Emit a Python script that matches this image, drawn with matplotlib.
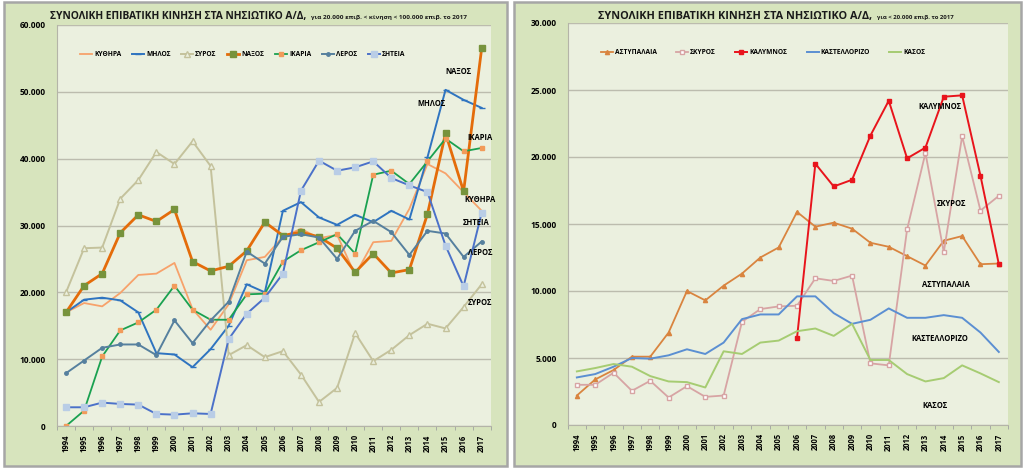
import matplotlib
matplotlib.use("Agg")
import matplotlib.pyplot as plt
from matplotlib.patches import Rectangle
from matplotlib.ticker import FuncFormatter, MultipleLocator
import numpy as np

plt.rcParams['font.family'] = ['Open Sans', 'DejaVu Sans']

years = list(range(1994, 2018))

# ---- left chart: 20.000 < traffic < 100.000 ----
kythira = [17000, 18400, 17900, 19900, 22600, 22800, 24400, 17500, 14400, 18200, 24800, 25300,
           28300, 29500, 28100, 28600, 22600, 27500, 27700, 32500, 39200, 37800, 35000, 32200]
milos = [17000, 18900, 19200, 18800, 17000, 10900, 10700, 8800, 11500, 15000, 21200, 20000,
         32200, 33500, 31200, 30100, 31600, 30500, 32200, 30900, 40200, 50300, 48800, 47600]
syros = [20000, 26600, 26700, 34000, 36800, 41000, 39200, 42600, 38900, 10600, 12100, 10300,
         11200, 7700, 3600, 5700, 13900, 9700, 11400, 13600, 15300, 14600, 17800, 21200]
naxos = [17000, 21000, 22800, 28900, 31600, 30600, 32400, 24600, 23200, 23900, 26200, 30500,
         28500, 29000, 28300, 26600, 23000, 25800, 22900, 23400, 31700, 43800, 35100, 56500]
ikaria = [0, 2300, 10400, 14300, 15500, 17400, 21000, 17400, 15900, 15900, 19700, 19800,
          24600, 26300, 27500, 28700, 25800, 37600, 38200, 36200, 39600, 43000, 41100, 41600]
leros = [7900, 9800, 11700, 12200, 12200, 10600, 15800, 12400, 15800, 18600, 26100, 24300,
         28300, 28700, 28200, 25000, 29200, 30700, 29000, 25600, 29200, 28800, 25300, 27600]
siteia = [2800, 2800, 3500, 3300, 3200, 1800, 1700, 1900, 1800, 13000, 16800, 19200,
          22800, 35200, 39700, 38200, 38700, 39600, 37100, 36000, 35000, 27000, 20900, 31900]

# ---- right chart: < 20.000 ----
astypalaia = [2200, 3400, 4100, 5100, 5100, 6900, 10000, 9300, 10400, 11300, 12500, 13250,
              15900, 14800, 15100, 14650, 13600, 13300, 12600, 11900, 13750, 14100, 12000, 12050]
skyros = [3000, 3000, 3900, 2550, 3300, 2050, 2900, 2100, 2200, 7700, 8650, 8850,
          8900, 10950, 10750, 11150, 4600, 4450, 14600, 20300, 12900, 21550, 16000, 17100]
kalymnos = [np.nan] * 12 + [6500, 19500, 17800, 18300, 21600, 24200, 19900, 20700, 24500, 24600, 18600, 12000]
kastellorizo = [3550, 3800, 4350, 5000, 4950, 5200, 5650, 5300, 6150, 7900, 8250, 8250,
                9600, 9600, 8350, 7550, 7850, 8700, 8000, 8000, 8200, 8000, 6900, 5450]
kasos = [4000, 4250, 4550, 4350, 3650, 3250, 3200, 2800, 5500, 5300, 6150, 6300,
         7000, 7200, 6650, 7550, 4850, 4850, 3800, 3250, 3500, 4450, 3850, 3200]

title_main = "ΣΥΝΟΛΙΚΗ ΕΠΙΒΑΤΙΚΗ ΚΙΝΗΣΗ ΣΤΑ ΝΗΣΙΩΤΙΚΟ Α/Δ,"
title_left_sub = "για 20.000 επιβ. < κίνηση < 100.000 επιβ. το 2017"
title_right_sub = "για < 20.000 επιβ. το 2017"

panel_bg = "#d7e4bd"
plot_bg = "#ebf0df"
W, H = 1024, 468

fig = plt.figure(figsize=(W / 100, H / 100), dpi=100)
fig.patch.set_facecolor("white")

# panel backgrounds
for x0, x1 in [(4, 507), (514, 1021)]:
    fig.patches.append(Rectangle((x0 / W, 1 - 466 / H), (x1 - x0) / W, 464 / H,
                                 transform=fig.transFigure, facecolor=panel_bg,
                                 edgecolor="#a6a6a6", linewidth=1.8, zorder=-1))

ax1 = fig.add_axes([57 / W, 1 - 426 / H, (490.7 - 57) / W, (426 - 25) / H])
ax2 = fig.add_axes([567.7 / W, 1 - 425 / H, (1008 - 567.7) / W, (425 - 23) / H])

fmt = FuncFormatter(lambda v, p: "{:,.0f}".format(v).replace(",", "."))


def style(ax, ymax, step):
    ax.set_facecolor(plot_bg)
    ax.set_xlim(1993.5, 2017.5)
    ax.set_ylim(0, ymax)
    ax.yaxis.set_major_locator(MultipleLocator(step))
    ax.yaxis.set_major_formatter(fmt)
    ax.set_xticks(years)
    ax.set_xticklabels([str(y) for y in years], rotation=90, fontsize=5.5, fontweight="bold")
    ax.set_xticks(np.arange(1993.5, 2018, 1), minor=True)
    ax.tick_params(axis="x", which="major", length=0, pad=6)
    ax.tick_params(axis="x", which="minor", length=3, color="#a0a0a0")
    ax.tick_params(axis="y", length=0, labelsize=6, pad=8)
    for lab in ax.get_yticklabels():
        lab.set_fontweight("bold")
    ax.grid(axis="y", color="#bcbcae", linewidth=1)
    ax.set_axisbelow(True)
    for s in ["top", "right"]:
        ax.spines[s].set_visible(False)
    ax.spines["left"].set_color("#b4b4a8")
    ax.spines["bottom"].set_color("#b4b4a8")


style(ax1, 60000, 10000)
style(ax2, 30000, 5000)

# left series
ax1.plot(years, kythira, color="#f7a26b", lw=1.3, label="ΚΥΘΗΡΑ")
ax1.plot(years, milos, color="#2f74c0", lw=1.4, marker="_", ms=5, label="ΜΗΛΟΣ")
ax1.plot(years, syros, color="#c4c29c", lw=1.4, marker="^", ms=4, mfc=plot_bg, mec="#c4c29c", label="ΣΥΡΟΣ")
ax1.plot(years, naxos, color="#e46c0a", lw=2.0, marker="s", ms=4.8, mfc="#77933c", mec="#77933c", label="ΝΑΞΟΣ")
ax1.plot(years, ikaria, color="#1aa150", lw=1.3, marker="s", ms=3, mfc="#f29b5a", mec="#f29b5a", label="ΙΚΑΡΙΑ")
ax1.plot(years, leros, color="#56809e", lw=1.4, marker="o", ms=2.5, label="ΛΕΡΟΣ")
ax1.plot(years, siteia, color="#4b71c9", lw=1.4, marker="s", ms=5, mfc="#b9cde6", mec="#b9cde6", label="ΣΗΤΕΙΑ")

# right series
ax2.plot(years, astypalaia, color="#d9843f", lw=1.3, marker="^", ms=3, label="ΑΣΤΥΠΑΛΑΙΑ")
ax2.plot(years, skyros, color="#d7a4a4", lw=1.3, marker="s", ms=3.5, mfc="white", mec="#d7a4a4", label="ΣΚΥΡΟΣ")
ax2.plot(years, kalymnos, color="#e8141c", lw=1.4, marker="s", ms=2.5, label="ΚΑΛΥΜΝΟΣ")
ax2.plot(years, kastellorizo, color="#5b8fd2", lw=1.4, label="ΚΑΣΤΕΛΛΟΡΙΖΟ")
ax2.plot(years, kasos, color="#a6cc72", lw=1.4, label="ΚΑΣΟΣ")

leg_kw = dict(frameon=False, prop={"size": 4.8, "weight": "bold"}, handlelength=1.8,
              handletextpad=0.3, borderaxespad=0, borderpad=0)
ax1.legend(ncol=7, loc="upper left", bbox_to_anchor=(23 / 433.7, 0.935), columnspacing=1.6, **leg_kw)
ax2.legend(ncol=5, loc="upper left", bbox_to_anchor=(33 / 440.3, 0.935), columnspacing=2.9, **leg_kw)

lab_kw = dict(fontsize=5.5, fontweight="bold", ha="center", va="center")
for name, x, y in [("ΝΑΞΟΣ", 2015.7, 53100), ("ΜΗΛΟΣ", 2014.2, 48200), ("ΙΚΑΡΙΑ", 2016.9, 43200),
                   ("ΚΥΘΗΡΑ", 2016.9, 33900), ("ΣΗΤΕΙΑ", 2016.7, 30400), ("ΛΕΡΟΣ", 2016.9, 25900),
                   ("ΣΥΡΟΣ", 2016.9, 18500)]:
    ax1.text(x, y, name, **lab_kw)
for name, x, y in [("ΚΑΛΥΜΝΟΣ", 2013.8, 23800), ("ΣΚΥΡΟΣ", 2014.4, 16500),
                   ("ΑΣΤΥΠΑΛΑΙΑ", 2014.1, 10460), ("ΚΑΣΤΕΛΛΟΡΙΖΟ", 2013.8, 6480),
                   ("ΚΑΣΟΣ", 2013.5, 1490)]:
    ax2.text(x, y, name, **lab_kw)

# titles: bold part + small part right after it
renderer = fig.canvas.get_renderer()
for x_px, size, sub, sub_size in [(50, 7.4, title_left_sub, 4.6), (598, 7.8, title_right_sub, 4.3)]:
    t = fig.text(x_px / W, 1 - 16 / H, title_main, fontsize=size, fontweight="bold",
                 ha="left", va="center", color="#1a1a1a")
    bb = t.get_window_extent(renderer)
    fig.text(bb.x1 / W + 5 / W, 1 - 17 / H, sub, fontsize=sub_size, fontweight="bold",
             ha="left", va="center", color="#1a1a1a")

fig.savefig("out.png", dpi=100, facecolor=fig.get_facecolor())
